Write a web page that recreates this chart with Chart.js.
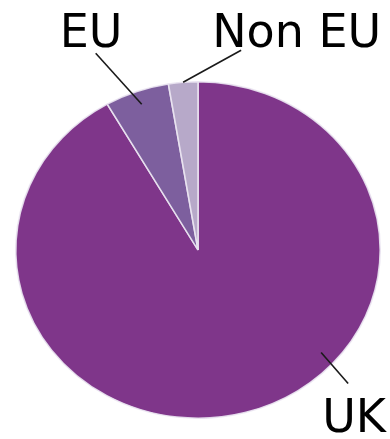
<!DOCTYPE html>
<html>
<head>
<meta charset="utf-8">
<script src="https://cdn.jsdelivr.net/npm/chart.js@4"></script>
<style>
  html, body { margin: 0; padding: 0; background: #fff; }
  #wrap { width: 390px; height: 439px; }
</style>
</head>
<body>
<div id="wrap"><canvas id="pieChart" width="390" height="439"></canvas></div>
<script>
// --- DATA ---
const regions = ["UK", "EU", "Non EU"];
const shares = [91.7, 5.7, 2.6];
const sliceColors = ["#7f368a", "#7d5f9e", "#b7a9c9"];

// the picture is stretched a bit wider than tall
const stretchX = 1.083;

// callout: where the line starts inside the slice (fraction of arc, fraction of radius),
// where it ends (offset from that point) and where the text sits (offset from line end)
const callouts = [
  { at: 0.4, r: 0.91, dx: 27, dy: 31, tx: -26, ty: 48 },
  { at: 0.5, r: 0.92, dx: -46, dy: -51, tx: -36, ty: -6 },
  { at: 0.5, r: 1.0, dx: 58, dy: -32, tx: -29, ty: -3 },
];

// --- PLUGINS ---
const stretchPlugin = {
  id: "stretch",
  beforeDatasetsDraw(chart) {
    const a = chart.chartArea;
    const cx = (a.left + a.right) / 2;
    const ctx = chart.ctx;
    ctx.save();
    ctx.translate(cx, 0);
    ctx.scale(stretchX, 1);
    ctx.translate(-cx, 0);
  },
  afterDatasetsDraw(chart) {
    chart.ctx.restore();
  },
};

const calloutPlugin = {
  id: "callouts",
  afterDraw(chart) {
    const ctx = chart.ctx;
    const arcs = chart.getDatasetMeta(0).data;
    ctx.save();
    ctx.strokeStyle = "#1a1a1a";
    ctx.lineWidth = 1.6;
    ctx.fillStyle = "#000";
    ctx.font = "46px 'DejaVu Sans'";
    ctx.textBaseline = "alphabetic";
    arcs.forEach((arc, i) => {
      const c = callouts[i];
      const p = arc.getProps(["x", "y", "startAngle", "endAngle", "outerRadius"], true);
      const ang = p.startAngle + (p.endAngle - p.startAngle) * c.at;
      const r = p.outerRadius * c.r;
      const x0 = p.x + Math.cos(ang) * r * stretchX;
      const y0 = p.y + Math.sin(ang) * r;
      const x1 = x0 + c.dx;
      const y1 = y0 + c.dy;
      ctx.beginPath();
      ctx.moveTo(x0, y0);
      ctx.lineTo(x1, y1);
      ctx.stroke();
      ctx.fillText(regions[i], x1 + c.tx, y1 + c.ty);
    });
    ctx.restore();
  },
};

new Chart(document.getElementById("pieChart"), {
  type: "pie",
  data: {
    labels: regions,
    datasets: [
      {
        data: shares,
        backgroundColor: sliceColors,
        borderColor: "rgba(235,230,242,0.9)",
        borderWidth: 1.5,
      },
    ],
  },
  options: {
    responsive: false,
    animation: false,
    layout: { padding: { left: 29, right: 23, top: 81, bottom: 20 } },
    plugins: {
      legend: { display: false },
      tooltip: { enabled: false },
    },
  },
  plugins: [stretchPlugin, calloutPlugin],
});
</script>
</body>
</html>
